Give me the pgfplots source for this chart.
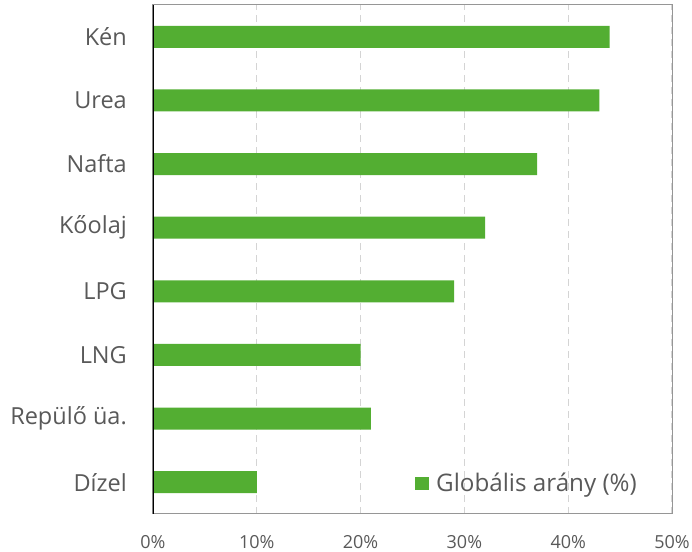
\documentclass[border=0pt]{standalone}
\usepackage{fontspec}
\setmainfont{Open Sans}
\usepackage{pgfplots}
\pgfplotsset{compat=1.18}
\definecolor{barc}{RGB}{83,174,50}
\definecolor{txt}{RGB}{89,89,89}
\definecolor{gridc}{RGB}{212,212,212}
\definecolor{framec}{RGB}{150,150,150}
\begin{document}
\fontsize{23.5}{27}\selectfont
\begin{tikzpicture}
\begin{axis}[
  scale only axis, width=519pt, height=509pt,
  xbar, bar width=22pt,
  xmin=0, xmax=50, ymin=-0.5, ymax=7.5,
  ytick={0,1,2,3,4,5,6,7},
  yticklabels={Dízel,Repülő üa.,LNG,LPG,Kőolaj,Nafta,Urea,Kén},
  xtick={0,10,20,30,40,50},
  xticklabel={\pgfmathprintnumber{\tick}\%},
  /pgf/number format/assume math mode=true,
  major tick length=0pt,
  xmajorgrids,
  major grid style={gridc, dash pattern=on 7pt off 5pt, line width=1.2pt},
  axis line style={framec, line width=1pt},
  ticklabel style={text=txt, inner sep=0pt},
  yticklabel style={font=\fontsize{23.5}{27}\selectfont, xshift=-26pt},
  xticklabel style={font=\fontsize{18}{21}\selectfont, yshift=-21pt},
  legend style={draw=none, fill=none, inner sep=0pt, at={(0.5048,0.059)}, anchor=west,
    font=\fontsize{24.2}{28}\selectfont, text=txt, nodes={inner sep=0pt}, /tikz/column sep=7pt},
  legend image code/.code={\fill[barc] (0pt,-6pt) rectangle (14pt,6.5pt);},
]
\addplot[fill=barc, draw=none] coordinates {(10,0) (21,1) (20,2) (29,3) (32,4) (37,5) (43,6) (44,7)};
\addlegendentry{Globális arány (\%)}
\draw[black, line width=1.5pt] (rel axis cs:0,0) -- (rel axis cs:0,1);
\end{axis}
\pgfresetboundingbox
\path[use as bounding box] ([xshift=-153pt,yshift=-38pt]current axis.south west) rectangle ([xshift=20pt,yshift=5pt]current axis.north east);
\end{tikzpicture}
\end{document}
